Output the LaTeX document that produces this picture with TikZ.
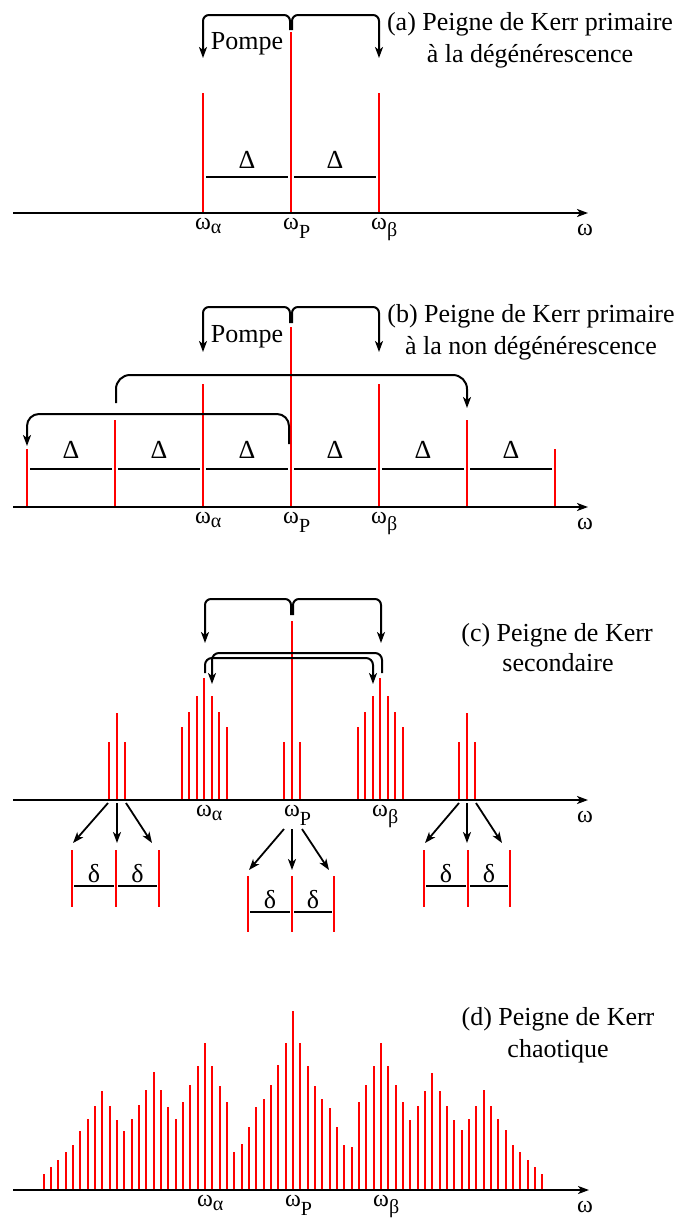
\documentclass[tikz,border=0pt]{standalone}
\usepackage{fontspec}
\setmainfont{Liberation Serif}
\usetikzlibrary{arrows.meta}
\newcommand\omsub[2]{ω\raisebox{-#2pt}{\fontsize{20}{20}\selectfont #1}}
\begin{document}
\begin{tikzpicture}[x=1pt,y=-1pt,
  spike/.style={draw=red, line width=1.8pt},
  bar/.style={draw=black, line width=2pt},
  axis/.style={line width=2pt, -{Stealth[length=11pt,width=8pt,inset=3pt]}},
  link/.style={line width=2pt, rounded corners=6pt, -{Stealth[length=11pt,width=8pt,inset=3pt]}},
  zarrow/.style={line width=1.8pt, -{Stealth[length=11pt,width=8pt,inset=3pt]}},
  txt/.style={font=\fontsize{26}{30}\selectfont, inner sep=0pt, anchor=base},
  wlab/.style={font=\fontsize{24}{28}\selectfont, inner sep=0pt, anchor=base west, xshift=-8pt},
  wend/.style={font=\fontsize{24}{28}\selectfont, inner sep=0pt, anchor=base}
]
\useasboundingbox (0,0) rectangle (678,1219);
\fill[white] (0,0) rectangle (678,1219);

%%%%%%%%%%%%%%%% (a)
\coordinate (aS) at (13,213); \coordinate (aE) at (588,213);
\draw[spike] (203,213) -- (203,93);
\draw[spike] (291,213) -- (291,32);
\draw[spike] (379,213) -- (379,93);
\draw[bar] (206,177) -- (288,177);
\draw[bar] (294,177) -- (376,177);
\node[txt] (aD1) at (247,168) {Δ};
\node[txt] (aD2) at (335,168) {Δ};
\draw[axis] (aS) -- (aE);
\node[wlab] (aLa) at (203,229) {\omsub{α}{4}};
\node[wlab] (aLp) at (291,229) {\omsub{P}{9}};
\node[wlab] (aLb) at (379,229) {\omsub{β}{7}};
\node[wend] (aW) at (585,235) {ω};
\coordinate (aPl) at (290,30); \coordinate (aPr) at (292,30);
\coordinate (aTa) at (203,58); \coordinate (aTb) at (379,58);
\draw[link] (aPl) -- (290,15) -- (203,15) -- (aTa);
\draw[link] (aPr) -- (292,15) -- (379,15) -- (aTb);
\node[txt] (aPompe) at (247,49) {Pompe};
\node[txt] (aT1) at (530,30) {(a) Peigne de Kerr primaire};
\node[txt] (aT2) at (530,62) {à la dégénérescence};

%%%%%%%%%%%%%%%% (b)
\coordinate (bS) at (13,507); \coordinate (bE) at (588,507);
\foreach \x/\t in {27/449,115/420,203/384,291/327,379/384,467/420,555/449}
  \draw[spike] (\x,507) -- (\x,\t);
\foreach \a/\b in {27/115,115/203,203/291,291/379,379/467,467/555}{
  \draw[bar] (\a+3,469) -- (\b-3,469);
  \node[txt] at ({(\a+\b)/2},458) {Δ};
}
\draw[axis] (bS) -- (bE);
\node[wlab] (bLa) at (203,523) {\omsub{α}{4}};
\node[wlab] (bLp) at (291,523) {\omsub{P}{9}};
\node[wlab] (bLb) at (379,523) {\omsub{β}{7}};
\node[wend] (bW) at (585,529) {ω};
\coordinate (bPl) at (290,323); \coordinate (bPr) at (292,323);
\coordinate (bTa) at (203,352); \coordinate (bTb) at (379,352);
\draw[link] (bPl) -- (290,307) -- (203,307) -- (bTa);
\draw[link] (bPr) -- (292,307) -- (379,307) -- (bTb);
\coordinate (b2s) at (116,403); \coordinate (b2e) at (467,408);
\draw[link, rounded corners=14pt] (b2s) -- (116,375) -- (467,375) -- (b2e);
\coordinate (b3s) at (289,444); \coordinate (b3e) at (27,446);
\draw[link, rounded corners=12pt] (b3s) -- (289,414) -- (27,414) -- (b3e);
\node[txt] (bPompe) at (247,342) {Pompe};
\node[txt] (bT1) at (531,322) {(b) Peigne de Kerr primaire};
\node[txt] (bT2) at (531,354) {à la non dégénérescence};

%%%%%%%%%%%%%%%% (c)
\coordinate (cS) at (13,800); \coordinate (cE) at (588,800);
\foreach \c in {117,467}
  \foreach \o/\t in {-8/742,0/713,8/742}
    \draw[spike] (\c+\o,800) -- (\c+\o,\t);
\foreach \c in {204,380}
  \foreach \o/\t in {-22/727,-15/712,-7/696,0/678,8/696,15/712,23/727}
    \draw[spike] (\c+\o,800) -- (\c+\o,\t);
\foreach \o/\t in {-8/742,0/621,8/742}
  \draw[spike] (292+\o,800) -- (292+\o,\t);
\draw[axis] (cS) -- (cE);
\node[wlab] (cLa) at (204,816) {\omsub{α}{4}};
\node[wlab] (cLp) at (292,816) {\omsub{P}{9}};
\node[wlab] (cLb) at (380,816) {\omsub{β}{7}};
\node[wend] (cW) at (585,822) {ω};
\coordinate (cPl) at (291,615); \coordinate (cPr) at (293,615);
\coordinate (cTa) at (205,643); \coordinate (cTb) at (381,643);
\draw[link] (cPl) -- (291,599) -- (205,599) -- (cTa);
\draw[link] (cPr) -- (293,599) -- (381,599) -- (cTb);
\coordinate (cBs) at (382,673); \coordinate (cBe) at (212,684);
\draw[link, rounded corners=7pt] (cBs) -- (382,653) -- (212,653) -- (cBe);
\coordinate (cAs) at (205,673); \coordinate (cAe) at (373,684);
\draw[link, rounded corners=7pt] (cAs) -- (205,658) -- (373,658) -- (cAe);
\node[txt] (cT1) at (557,641) {(c) Peigne de Kerr};
\node[txt] (cT2) at (558,671) {secondaire};
% zooms
\foreach \ax/\ay/\bx/\by in {108/803/73/843, 117/803/117/843, 126/803/152/843,
                            459/803/425/843, 467/803/467/843, 476/803/502/843,
                            284/829/249/870, 292/829/292/870, 302/829/329/870}
  \draw[zarrow] (\ax,\ay) -- (\bx,\by);
\foreach \l/\m/\r/\top/\bot/\yb in {72/116/159/850/907/886, 424/468/510/850/907/886, 248/292/334/876/932/912}{
  \draw[spike] (\l,\top) -- (\l,\bot);
  \draw[spike] (\m,\top) -- (\m,\bot);
  \draw[spike] (\r,\top) -- (\r,\bot);
  \draw[bar] (\l+2,\yb) -- (\m-2,\yb);
  \draw[bar] (\m+2,\yb) -- (\r-2,\yb);
  \node[txt] at ({(\l+\m)/2},\yb-4) {δ};
  \node[txt] at ({(\m+\r)/2},\yb-4) {δ};
}

%%%%%%%%%%%%%%%% (d)
\coordinate (dS) at (13,1190); \coordinate (dE) at (589,1190);
\foreach \k/\t in {-34/1174,-33/1167,-32/1159.7,-31/1152.3,-30/1145,-29/1131,-28/1119.3,
  -27/1106.3,-26/1091.3,-25/1106.3,-24/1120.3,-23/1131,-22/1118.7,-21/1105.3,-20/1089.7,
  -19/1072,-18/1089.7,-17/1106.7,-16/1118.7,-15/1102.3,-14/1085.3,-13/1066,-12/1043.3,
  -11/1066,-10/1086,-9/1102.3,-8/1152.3,-7/1144.3,-6/1127,-5/1107.3,-4/1098.7,-3/1085.3,
  -2/1065.3,-1/1043.3,0/1010.7,1/1043.3,2/1066,3/1086,4/1099.3,5/1108,6/1127.3,7/1145,
  8/1147,9/1102.3,10/1085.3,11/1066,12/1043.3,13/1066,14/1085.3,15/1102.3,16/1120,
  17/1106.3,18/1091,19/1073,20/1091,21/1106.3,22/1120,23/1130.3,24/1118.7,25/1106.3,
  26/1090.3,27/1106.3,28/1118.7,29/1130.3,30/1145,31/1152.3,32/1159.7,33/1167,34/1174}
  \draw[spike] ({round(293+7.333*\k)},1190) -- ({round(293+7.333*\k)},\t);
\draw[axis] (dS) -- (dE);
\node[wlab] (dLa) at (205,1206) {\omsub{α}{4}};
\node[wlab] (dLp) at (293,1206) {\omsub{P}{9}};
\node[wlab] (dLb) at (381,1206) {\omsub{β}{7}};
\node[wend] (dW) at (585,1212) {ω};
\node[txt] (dT1) at (558,1025) {(d) Peigne de Kerr};
\node[txt] (dT2) at (558,1057) {chaotique};
\end{tikzpicture}
\end{document}
